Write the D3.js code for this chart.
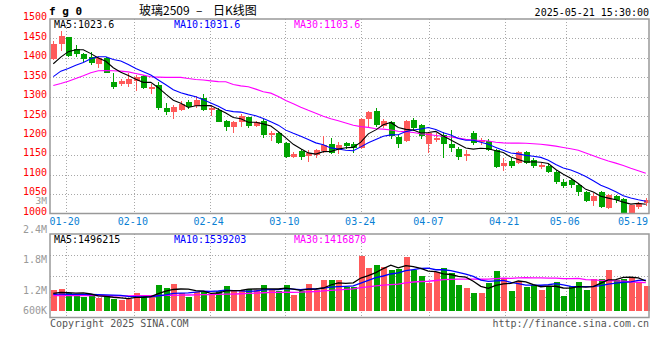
<!DOCTYPE html>
<html><head><meta charset="utf-8">
<script src="https://cdn.jsdelivr.net/npm/d3@7"></script>
<style>
html,body{margin:0;padding:0;background:#fff;}
svg{display:block;}
text{font-family:"DejaVu Sans Mono",monospace;font-size:10px;}
</style></head><body>
<svg id="c" width="660" height="360"></svg>
<script>
const dates = ["01-16","01-17","01-20","01-21","01-22","01-23","01-24","01-27","02-05","02-06","02-07","02-10","02-11","02-12","02-13","02-14","02-17","02-18","02-19","02-20","02-21","02-24","02-25","02-26","02-27","02-28","03-03","03-04","03-05","03-06","03-07","03-10","03-11","03-12","03-13","03-14","03-17","03-18","03-19","03-20","03-21","03-24","03-25","03-26","03-27","03-28","03-31","04-01","04-02","04-03","04-07","04-08","04-09","04-10","04-11","04-14","04-15","04-16","04-17","04-18","04-21","04-22","04-23","04-24","04-25","04-28","04-29","04-30","05-06","05-07","05-08","05-09","05-12","05-13","05-14","05-15","05-16","05-19","05-20","05-21"];
const open  = [1396,1437,1454,1422,1410,1403,1384,1399,1338,1333,1333,1341,1354,1321,1330,1272,1262,1266,1286,1276,1298,1265,1267,1237,1223,1236,1247,1225,1238,1203,1208,1180,1144,1160,1149,1150,1160,1178,1166,1182,1178,1169,1244,1263,1226,1236,1197,1186,1240,1228,1178,1190,1201,1178,1166,1148,1208,1184,1186,1163,1123,1135,1129,1157,1137,1119,1123,1107,1080,1085,1072,1056,1033,1056,1013,1045,1038,1000,1016,1026];
const high  = [1443,1469,1455,1433,1413,1414,1405,1403,1360,1345,1362,1357,1355,1334,1339,1284,1278,1289,1291,1301,1306,1279,1270,1240,1238,1257,1249,1238,1244,1212,1210,1184,1159,1167,1163,1167,1200,1193,1184,1184,1183,1246,1263,1272,1243,1238,1202,1240,1246,1231,1210,1206,1210,1214,1172,1163,1212,1193,1191,1167,1142,1142,1160,1160,1143,1129,1126,1112,1089,1090,1077,1058,1052,1058,1049,1047,1039,1022,1030,1039];
const low   = [1394,1418,1403,1403,1390,1383,1373,1361,1321,1327,1326,1315,1319,1306,1266,1253,1243,1263,1268,1270,1264,1251,1234,1212,1208,1223,1219,1222,1195,1186,1178,1142,1142,1137,1133,1143,1155,1152,1152,1167,1155,1167,1223,1223,1219,1192,1169,1184,1212,1192,1155,1183,1142,1159,1137,1135,1176,1176,1161,1118,1109,1116,1126,1126,1116,1114,1103,1077,1065,1066,1046,1030,1020,1013,1012,1026,1000,1000,1012,1018];
const close = [1437,1456,1405,1410,1397,1387,1401,1362,1326,1341,1345,1352,1322,1326,1272,1262,1274,1282,1273,1293,1267,1272,1236,1223,1236,1251,1226,1236,1203,1208,1180,1144,1154,1146,1155,1164,1176,1156,1176,1173,1169,1244,1262,1227,1238,1199,1179,1238,1219,1199,1206,1193,1179,1169,1146,1154,1180,1189,1163,1120,1131,1123,1157,1131,1123,1125,1107,1080,1070,1072,1056,1032,1046,1016,1048,1034,1002,1021,1025,1035];
const ma5  = [1385,1402,1416,1421,1421,1411,1400,1391.4,1374.6,1363.4,1355,1345.2,1337.2,1337.2,1323.4,1306.8,1291.2,1283.2,1272.6,1276.8,1277.8,1277.4,1268.2,1258.2,1246.8,1243.6,1234.4,1234.4,1230.4,1224.8,1210.6,1194.2,1177.8,1166.4,1155.8,1152.6,1159,1159.4,1165.4,1169,1170,1183.6,1204.8,1215,1228,1234,1221,1216.2,1214.6,1206.8,1208.2,1211,1199.2,1189.2,1178.6,1168.2,1165.6,1167.6,1166.4,1161.2,1156.6,1145.2,1138.8,1132.4,1133,1131.8,1128.6,1113.2,1101,1090.8,1077,1062,1055.2,1044.4,1039.6,1035.2,1029.2,1024.2,1026,1023.6];
const ma10 = [1352,1366,1373,1381,1388,1398,1403,1403,1396,1392.2,1383,1372.6,1364.3,1355.9,1343.4,1330.9,1318.2,1310.2,1304.9,1300.1,1292.3,1284.3,1275.7,1265.4,1261.8,1260.7,1255.9,1251.3,1244.3,1235.8,1227.1,1214.3,1206.1,1198.4,1190.3,1181.6,1176.6,1168.6,1165.9,1162.4,1161.3,1171.3,1182.1,1190.2,1198.5,1202,1202.3,1210.5,1214.8,1217.4,1221.1,1216,1207.7,1201.9,1192.7,1188.2,1188.3,1183.4,1177.8,1169.9,1162.4,1155.4,1153.2,1149.4,1147.1,1144.2,1136.9,1126,1116.7,1111.9,1104.4,1095.3,1084.2,1072.7,1065.2,1056.1,1045.6,1039.7,1035.2,1031.6];
const ma30 = [1329,1334,1340,1347,1354,1361.6,1366.8,1367.6,1366.8,1366,1364,1360,1355.7,1351.4,1350.6,1350,1350,1350,1347,1344.5,1343,1341,1339,1338.6,1331.7,1328,1325.7,1319.7,1313,1309.4,1300.8,1290.4,1282,1273.2,1265.2,1257.7,1250.2,1243.4,1238.4,1232.8,1226.9,1223.3,1221.3,1218,1216.9,1214.8,1211.6,1210.1,1208.3,1205.2,1203.2,1200.5,1198.6,1196.8,1193.8,1190.6,1189.1,1187.5,1186.2,1183.2,1181.6,1180.9,1181,1180.5,1179.4,1178.1,1175.8,1173.3,1169.8,1166.4,1162.6,1155.6,1148.4,1141.3,1135,1129.5,1123.6,1116.4,1109.9,1103.6];
const volume = [1043,1093,877,791,705,741,625,741,574,539,574,907,791,756,1295,1159,1345,907,705,957,1008,791,992,1244,1043,1043,1093,1043,1295,1043,992,1295,791,992,1345,1043,1547,1547,1547,1179,1179,2771,2166,2302,2202,2050,2086,2720,2050,1748,1380,1935,2166,1884,1295,1159,907,907,1380,2000,1582,1008,1511,1179,1295,1043,1179,1461,741,1244,1461,1043,1597,1597,2050,1547,1597,1632,1461,1244];
const volMa5 = [877,927,910,890,902,841,748,721,677,644,611,667,677,713,865,982,1069,1092,1082,1015,984,874,891,998,1016,1023,1083,1093,1103,1103,1093,1134,1083,1023,1083,1093,1144,1295,1406,1373,1400,1645,1768,1919,2124,2298,2161,2272,2222,2131,1997,1967,1856,1823,1732,1688,1482,1230,1130,1271,1355,1375,1496,1456,1315,1207,1241,1231,1144,1134,1217,1190,1217,1388,1550,1567,1678,1685,1657,1496];
const volMa10 = [826,830,830,826,820,815,805,795,785,773,726,707,699,695,754,796,868,885,898,940,983,971,992,1040,1015,1004,978,992,1051,1060,1058,1108,1088,1063,1093,1093,1139,1189,1214,1228,1247,1394,1532,1663,1748,1849,1903,2020,2071,2127,2148,2064,2064,2022,1931,1842,1724,1543,1476,1501,1522,1429,1363,1293,1293,1281,1308,1364,1300,1224,1212,1216,1224,1266,1342,1392,1434,1451,1523,1539];
const volMa30 = [755,757,760,760,760,758,756,754,752,750,750,752,755,758,762,768,775,782,790,798,805,812,820,830,840,855,870,890,905,924,922,929,926,933,954,964,995,1022,1054,1076,1096,1158,1204,1255,1286,1315,1340,1400,1445,1472,1484,1522,1561,1583,1591,1595,1589,1584,1587,1619,1639,1629,1653,1659,1658,1658,1645,1642,1616,1618,1627,1569,1551,1527,1522,1505,1489,1453,1433,1417];
const priceTicks = [1500,1450,1400,1350,1300,1250,1200,1150,1100,1050,1000];
const volTickLabels = ["2.4M","1.8M","1.2M","600K"];
const volTickValues = [2400000,1800000,1200000,600000];
const xTickDates = ["01-20","02-10","02-24","03-10","03-24","04-07","04-21","05-06","05-19"];
const xGridDates = ["01-20","02-10","02-24","03-10","03-24","04-07","04-21","05-06"];
const priceLegend = ["MA5:1023.6","MA10:1031.6","MA30:1103.6"];
const volLegend = ["MA5:1496215","MA10:1539203","MA30:1416870"];
const legendColors = ["#000000","#0000ff","#ff00ff"];
const titleParts = ["玻璃2509", "–", "日K线图"];

const svg = d3.select("#c");
const L = 50, R = 649, PT = 19, PB = 213.5, VT = 234, VB = 317.5;
const n = dates.length;
const idx = d => dates.indexOf(d);
const x = d3.scaleLinear().domain([0, n - 1]).range([53.3, 645.8]);
const xg = d3.scaleLinear().domain([0, n]).range([50.5, 656.7]);
const y = d3.scaleLinear().domain([1000, 1500]).range([PB, PT]);
const yv = d3.scaleLinear().domain([0, 1000]).range([310.7, 290.85]);
const yvLabel = d3.scaleLinear().domain([600000, 1200000, 1800000, 2400000]).range([314, 294, 263.3, 233.3]);
const vgrid = d3.scaleLinear().domain([0, 4]).range([VT, VB]);
const up = "#ff5a5a", down = "#00a300", gridC = "#a8a8a8";

// grid lines
const g = svg.append("g").attr("stroke", gridC).attr("stroke-dasharray", "1,2").attr("shape-rendering", "crispEdges");
g.selectAll(".hp").data(priceTicks.slice(1, -1)).join("line")
  .attr("x1", L).attr("x2", R).attr("y1", d => Math.round(y(d)) + 0.5).attr("y2", d => Math.round(y(d)) + 0.5);
g.selectAll(".vp").data(xGridDates).join("line")
  .attr("x1", d => Math.round(xg(idx(d))) + 0.5).attr("x2", d => Math.round(xg(idx(d))) + 0.5)
  .attr("y1", PT).attr("y2", PB);
g.selectAll(".vv").data(xGridDates).join("line")
  .attr("x1", d => Math.round(xg(idx(d))) + 0.5).attr("x2", d => Math.round(xg(idx(d))) + 0.5)
  .attr("y1", VT).attr("y2", VB);
g.selectAll(".hv").data([1, 2, 3]).join("line")
  .attr("x1", L).attr("x2", R).attr("y1", d => Math.round(vgrid(d)) + 0.5).attr("y2", d => Math.round(vgrid(d)) + 0.5);

// candles
const cg = svg.append("g").attr("shape-rendering", "crispEdges");
const ids = d3.range(n);
const col = i => close[i] >= open[i] ? up : down;
cg.selectAll("line.w").data(ids).join("line")
  .attr("x1", i => Math.round(x(i)) + 0.5).attr("x2", i => Math.round(x(i)) + 0.5)
  .attr("y1", i => y(high[i])).attr("y2", i => y(low[i])).attr("stroke", col);
cg.selectAll("rect.b").data(ids).join("rect")
  .attr("x", i => Math.round(x(i)) - 2.5).attr("width", 6)
  .attr("y", i => y(Math.max(open[i], close[i])))
  .attr("height", i => Math.max(1, Math.abs(y(open[i]) - y(close[i]))))
  .attr("fill", col);

// volume bars
svg.append("g").attr("shape-rendering", "crispEdges").selectAll("rect").data(ids).join("rect")
  .attr("x", i => Math.round(x(i)) - 2.5).attr("width", 6)
  .attr("y", i => yv(volume[i])).attr("height", i => yv(0) - yv(volume[i]))
  .attr("fill", col);

// MA lines
const line = (arr, sc) => d3.line().x((d, i) => x(i)).y(d => sc(d))(arr);
[[ma30, "#ff00ff"], [ma10, "#0000ff"], [ma5, "#000000"]].forEach(([a, c]) =>
  svg.append("path").attr("d", line(a, y)).attr("fill", "none").attr("stroke", c).attr("stroke-width", 1.1));
[[volMa30, "#ff00ff"], [volMa10, "#0000ff"], [volMa5, "#000000"]].forEach(([a, c]) =>
  svg.append("path").attr("d", line(a, yv)).attr("fill", "none").attr("stroke", c).attr("stroke-width", 1.3));

// frames
svg.append("rect").attr("x", L).attr("y", PT).attr("width", R - L).attr("height", PB - PT)
  .attr("fill", "none").attr("stroke", "#999").attr("stroke-width", 1.5);
svg.append("rect").attr("x", L).attr("y", VT).attr("width", R - L).attr("height", VB - VT)
  .attr("fill", "none").attr("stroke", "#999").attr("stroke-width", 1.5);

// price axis labels
svg.append("g").selectAll("text").data(priceTicks).join("text")
  .attr("x", 47).attr("y", d => y(d) + 1.3).attr("text-anchor", "end").attr("fill", "#ff0000").text(d => d);
svg.append("text").attr("x", 47).attr("y", 204).attr("text-anchor", "end").attr("fill", "#999")
  .style("font-size", "9.5px").text("3M");
// volume axis labels
svg.append("g").selectAll("text").data(volTickValues).join("text")
  .attr("x", 47).attr("y", d => yvLabel(d)).attr("text-anchor", "end").attr("fill", "#999")
  .text((d, i) => volTickLabels[i]);
// x labels
svg.append("g").selectAll("text").data(xTickDates).join("text")
  .attr("x", d => xg(idx(d)) - 1).attr("y", 224.5).attr("text-anchor", "middle").attr("fill", "#0a7fd4").text(d => d);

// legends
const legX = [54, 174, 294];
svg.append("g").selectAll("text").data(priceLegend).join("text")
  .attr("x", (d, i) => legX[i]).attr("y", 27.5).attr("fill", (d, i) => legendColors[i]).text(d => d);
svg.append("g").selectAll("text").data(volLegend).join("text")
  .attr("x", (d, i) => legX[i]).attr("y", 242.5).attr("fill", (d, i) => legendColors[i]).text(d => d);

// header
svg.append("text").attr("x", 49).attr("y", 15).attr("font-weight", "bold").style("font-size", "11px")
  .attr("xml:space", "preserve").text("f g 0");
const titleX = [139, 196, 213];
svg.append("g").selectAll("text").data(titleParts).join("text")
  .attr("x", (d, i) => titleX[i]).attr("y", 15)
  .style("font-family", "'Noto Sans CJK SC'").style("font-size", "12px").text(d => d);
svg.append("text").attr("x", 649).attr("y", 15.5).attr("text-anchor", "end").text("2025-05-21 15:30:00");
// footer
svg.append("text").attr("x", 50).attr("y", 326.5).attr("fill", "#555").text("Copyright 2025 SINA.COM");
svg.append("text").attr("x", 649).attr("y", 326.5).attr("text-anchor", "end").attr("fill", "#555").text("http://finance.sina.com.cn");
</script></body></html>
